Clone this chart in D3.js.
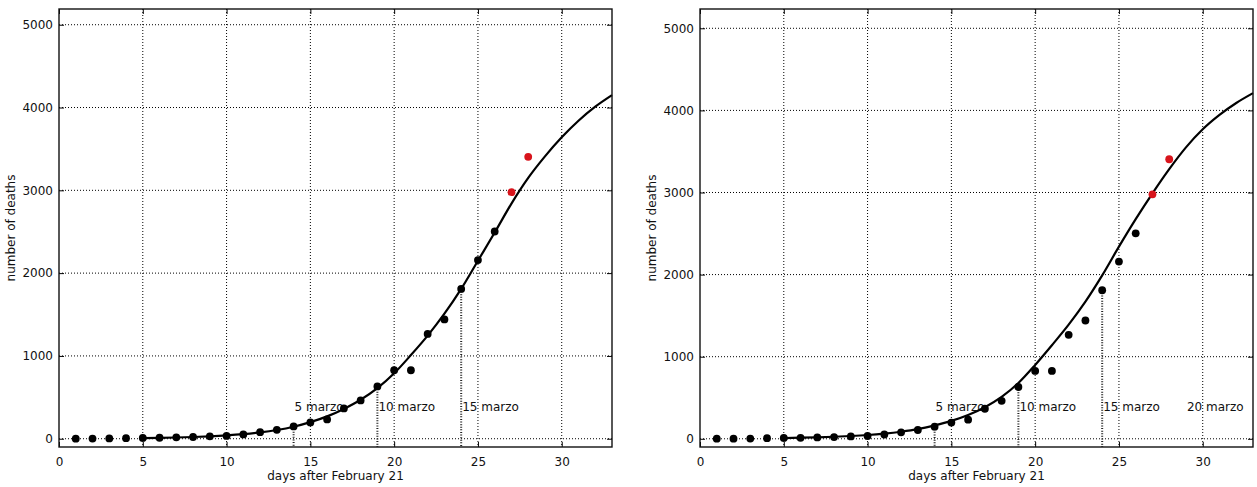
<!DOCTYPE html>
<html>
<head>
<meta charset="utf-8">
<script src="https://cdn.jsdelivr.net/npm/d3@7"></script>
<style>
  html, body { margin: 0; padding: 0; background: #fff; }
  svg { display: block; font-family: "DejaVu Sans", sans-serif; }
</style>
</head>
<body>
<svg id="chart" width="1257" height="487"></svg>
<script>
// ---- data ----
const pointDays   = [1,2,3,4,5,6,7,8,9,10,11,12,13,14,15,16,17,18,19,20,21,22,23,24,25,26];
const pointDeaths = [1,2,3,7,10,12,17,21,29,34,52,79,107,148,197,233,366,463,631,827,827,1266,1441,1809,2158,2503];
const newDays     = [27, 28];
const newDeaths   = [2978, 3405];

const fitDays  = [5,6,7,8,9,10,11,12,13,14,15,16,17,18,19,20,21,22,23,24,25,26,27,28,29,30,31,32,33];
const fitLeft  = [8,11,15,21,29,40,55,76,105,145,200,270,360,470,610,790,1010,1245,1510,1810,2150,2490,2840,3150,3410,3640,3840,4010,4150];
const fitRight = [9,13,18,25,34,46,63,86,117,163,218,290,385,510,680,900,1140,1390,1670,1990,2340,2675,2990,3285,3550,3770,3945,4090,4210];

const xTicks = [0,5,10,15,20,25,30];
const yTicks = [0,1000,2000,3000,4000,5000];

const markDaysLeft    = [14, 19, 24];
const markLabelsLeft  = ["5 marzo", "10 marzo", "15 marzo"];
const markDaysRight   = [14, 19, 24, 29];
const markLabelsRight = ["5 marzo", "10 marzo", "15 marzo", "20 marzo"];

const xLabel = "days after February 21";
const yLabel = "number of deaths";

// ---- drawing ----
const svg = d3.select("#chart");
const FONT = "DejaVu Sans";

function panel(opts) {
  const g = svg.append("g");
  const x = d3.scaleLinear().domain([0, 33]).range([opts.left, opts.right]);
  const y = d3.scaleLinear().domain([-100, opts.yMax]).range([447, 9]);
  const top = 9, bottom = 447;

  // grid
  g.append("g").selectAll("line").data(xTicks.filter(d => d > 0)).join("line")
    .attr("x1", d => x(d)).attr("x2", d => x(d))
    .attr("y1", top).attr("y2", bottom)
    .attr("stroke", "#000").attr("stroke-width", 1).attr("stroke-dasharray", "1,2");
  g.append("g").selectAll("line").data(yTicks).join("line")
    .attr("x1", opts.left).attr("x2", opts.right)
    .attr("y1", d => y(d)).attr("y2", d => y(d))
    .attr("stroke", "#000").attr("stroke-width", 1).attr("stroke-dasharray", "1,2");

  // date markers
  const lookup = new Map(pointDays.map((d, i) => [d, pointDeaths[i]]));
  g.append("g").selectAll("line").data(opts.markDays.filter(d => lookup.has(d))).join("line")
    .attr("x1", d => x(d)).attr("x2", d => x(d))
    .attr("y1", d => y(lookup.get(d))).attr("y2", bottom)
    .attr("stroke", "#222").attr("stroke-width", 2).attr("stroke-dasharray", "1,1.6");
  g.append("g").selectAll("text").data(opts.markDays).join("text")
    .attr("x", d => x(d) + 1)
    .attr("y", y(0) - 28)
    .attr("font-size", 12).attr("font-family", FONT).attr("fill", "#111")
    .text((d, i) => opts.markLabels[i]);

  // fitted curve
  const line = d3.line().x((d, i) => x(fitDays[i])).y(d => y(d)).curve(d3.curveMonotoneX);
  g.append("path").datum(opts.fit).attr("d", line)
    .attr("fill", "none").attr("stroke", "#000").attr("stroke-width", 2.2);

  // points
  g.append("g").selectAll("circle").data(pointDays).join("circle")
    .attr("cx", d => x(d)).attr("cy", (d, i) => y(pointDeaths[i]))
    .attr("r", 3.9).attr("fill", "#000");
  g.append("g").selectAll("circle").data(newDays).join("circle")
    .attr("cx", d => x(d)).attr("cy", (d, i) => y(newDeaths[i]))
    .attr("r", 3.9).attr("fill", "#d8141c");

  // axes
  const fmt = d3.format("d");
  const axes = [
    g.append("g").attr("transform", `translate(0,${bottom})`)
      .call(d3.axisBottom(x).tickValues(xTicks).tickSizeInner(-5).tickSizeOuter(0).tickPadding(10).tickFormat(fmt)),
    g.append("g").attr("transform", `translate(0,${top})`)
      .call(d3.axisTop(x).tickValues(xTicks).tickSizeInner(-5).tickSizeOuter(0).tickFormat("")),
    g.append("g").attr("transform", `translate(${opts.left},0)`)
      .call(d3.axisLeft(y).tickValues(yTicks).tickSizeInner(-5).tickSizeOuter(0).tickPadding(6).tickFormat(fmt)),
    g.append("g").attr("transform", `translate(${opts.right},0)`)
      .call(d3.axisRight(y).tickValues(yTicks).tickSizeInner(-5).tickSizeOuter(0).tickFormat(""))
  ];
  axes.forEach(a => {
    a.attr("font-size", 12).attr("font-family", FONT);
    a.select(".domain").remove();
    a.selectAll(".tick line").attr("stroke", "#000");
    a.selectAll(".tick text").attr("fill", "#111");
  });

  // frame
  g.append("rect").attr("x", opts.left).attr("y", top)
    .attr("width", opts.right - opts.left).attr("height", bottom - top)
    .attr("fill", "none").attr("stroke", "#111").attr("stroke-width", 1.4);

  // labels
  g.append("text").attr("x", (opts.left + opts.right) / 2).attr("y", 479.5)
    .attr("text-anchor", "middle").attr("font-size", 12).attr("font-family", FONT)
    .attr("fill", "#111").text(xLabel);
  g.append("text").attr("transform", `translate(${opts.left - 44},228) rotate(-90)`)
    .attr("text-anchor", "middle").attr("font-size", 12).attr("font-family", FONT)
    .attr("fill", "#111").text(yLabel);
}

panel({ left: 59, right: 612, yMax: 5190, fit: fitLeft, markDays: markDaysLeft, markLabels: markLabelsLeft });
panel({ left: 700, right: 1253, yMax: 5235, fit: fitRight, markDays: markDaysRight, markLabels: markLabelsRight });
</script>
</body>
</html>
